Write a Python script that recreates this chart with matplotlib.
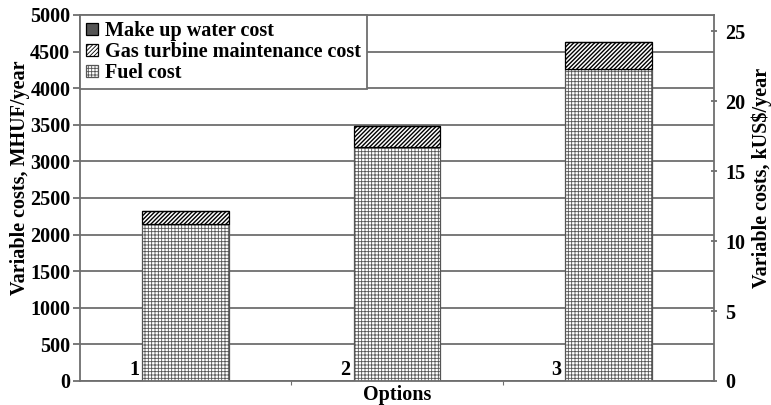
import numpy as np
import matplotlib.pyplot as plt

plt.rcParams['font.family'] = 'Liberation Serif'
plt.rcParams['font.weight'] = 'bold'

options = ['1', '2', '3']
fuel_cost = [2150, 3200, 4260]
gt_maint_cost = [170, 280, 365]
water_cost = [6, 8, 10]
usd_per_mhuf = 26.15 / 5000  # right axis scale

x = np.arange(len(options))
width = 0.41

fig = plt.figure(figsize=(7.71, 4.05), dpi=100)
ax = fig.add_axes([0.1038, 0.0593, 0.8222, 0.9037])

gray = '#6e6e6e'
ax.set_axisbelow(True)
ax.yaxis.grid(True, color=gray, linewidth=1.3)

plt.rcParams['hatch.linewidth'] = 0.6
b1 = ax.bar(x, fuel_cost, width, color='white', edgecolor='#555555', hatch='+++++', linewidth=0.9,
            label='Fuel cost')
bottom2 = np.array(fuel_cost)
b2 = ax.bar(x, gt_maint_cost, width, bottom=bottom2, color='white', edgecolor='black', hatch='////////',
            linewidth=0.9, label='Gas turbine maintenance cost')
bottom3 = bottom2 + np.array(gt_maint_cost)
b3 = ax.bar(x, water_cost, width, bottom=bottom3, color='#555555', edgecolor='black', linewidth=0.9,
            label='Make up water cost')
for p in b2:
    p._hatch_linewidth = 1.0

for i, lab in enumerate(options):
    ax.text(x[i] - width / 2 - 0.015, 20, lab, ha='right', va='bottom', fontsize=14.5, fontweight='bold')

ax.set_xlim(-0.5, 2.5)
ax.set_ylim(0, 5000)
ax.set_yticks(np.arange(0, 5001, 500))
ax.set_xticks([0.5, 1.5])
ax.set_xticklabels([])
ax.tick_params(axis='x', length=3, color=gray, direction='out')
ax.tick_params(axis='y', length=5, color=gray, direction='out', labelsize=14.5, width=1.3, pad=2)
for lab in ax.get_yticklabels():
    lab.set_fontweight('bold')
for s in ['left', 'bottom', 'right', 'top']:
    ax.spines[s].set_color(gray)
    ax.spines[s].set_linewidth(1.3)

ax.set_xlabel('Options', fontsize=14.5, fontweight='bold', va='center')
ax.xaxis.set_label_coords(0.5, -0.039)
ax.set_ylabel('Variable costs, MHUF/year', fontsize=14.5, fontweight='bold', va='center')
ax.yaxis.set_label_coords(-0.0946, 0.555)

ax2 = ax.twinx()
ax2.set_ylim(0, 5000 * usd_per_mhuf)
ax2.set_yticks(np.arange(0, 26, 5))
ax2.tick_params(axis='y', length=4, color=gray, direction='inout', labelsize=14.5, width=1.3, pad=6)
for lab in ax2.get_yticklabels():
    lab.set_fontweight('bold')
for s in ['left', 'bottom', 'right', 'top']:
    ax2.spines[s].set_visible(False)
ax2.set_ylabel('Variable costs, kUS$/year', fontsize=14.5, fontweight='bold', va='center')
ax2.yaxis.set_label_coords(1.0757, 0.555)

leg = ax.legend(handles=[b3, b2, b1], loc='upper left', bbox_to_anchor=(0, 1), borderaxespad=0,
                fancybox=False, framealpha=1, edgecolor=gray, handlelength=0.6,
                handleheight=0.6, handletextpad=0.35, labelspacing=0.05, borderpad=0.3,
                prop={'weight': 'bold', 'size': 14.5})
leg.get_frame().set_linewidth(1.3)
leg.set_zorder(5)

fig.savefig('out.png', dpi=100)
